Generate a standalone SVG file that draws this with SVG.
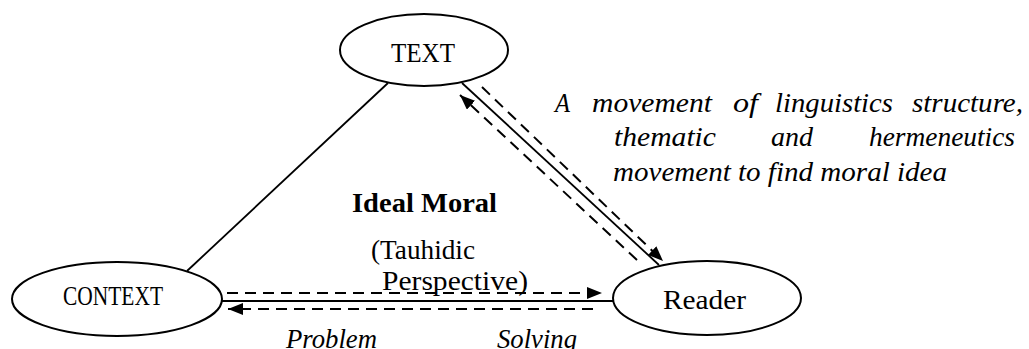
<svg xmlns="http://www.w3.org/2000/svg" width="1029" height="349" viewBox="0 0 1029 349">
<style>
.node{fill:#fff;stroke:#000;stroke-width:2}
.lbl{font-family:"Liberation Serif","Times New Roman",serif;font-size:27px;fill:#000}
.it{font-style:italic}
.bd{font-weight:bold}
.solid{stroke:#000;stroke-width:1.8;fill:none}
.dash{stroke:#000;stroke-width:2;fill:none;stroke-dasharray:11 7}
</style>
<defs>
<marker id="ah" viewBox="0 0 15 12" refX="15" refY="6" markerWidth="15" markerHeight="12" markerUnits="userSpaceOnUse" orient="auto">
<path d="M0,0 L15,6 L0,12 z" fill="#000"/>
</marker>
</defs>
<g id="connectors">
<line class="solid" x1="388" y1="83" x2="187" y2="271"/>
<line class="solid" x1="462" y1="83" x2="659" y2="265"/>
<path class="dash" d="M482,87 L663,261" marker-end="url(#ah)"/>
<path class="dash" d="M637,260 L460,95" marker-end="url(#ah)"/>
<line class="solid" x1="222" y1="301" x2="613" y2="301"/>
<path class="dash" d="M227,293 L602,293" marker-end="url(#ah)"/>
<path class="dash" d="M593,309 L228,309" marker-end="url(#ah)"/>
</g>
<g id="node-text">
<ellipse class="node" cx="424" cy="50" rx="84" ry="36"/>
<text class="lbl" x="391" y="62" textLength="64" lengthAdjust="spacingAndGlyphs">TEXT</text>
</g>
<g id="node-context">
<ellipse class="node" cx="117" cy="299" rx="105" ry="37"/>
<text class="lbl" x="63" y="305" textLength="100" lengthAdjust="spacingAndGlyphs">CONTEXT</text>
</g>
<g id="node-reader">
<ellipse class="node" cx="707" cy="298" rx="94" ry="37"/>
<text class="lbl" x="663" y="309" textLength="83" lengthAdjust="spacingAndGlyphs">Reader</text>
</g>
<g id="label-movement">
<text class="lbl it" y="112"><tspan x="555" textLength="15" lengthAdjust="spacingAndGlyphs">A</tspan><tspan x="592" textLength="120" lengthAdjust="spacingAndGlyphs">movement</tspan><tspan x="733" textLength="25" lengthAdjust="spacingAndGlyphs">of</tspan><tspan x="775" textLength="118" lengthAdjust="spacingAndGlyphs">linguistics</tspan><tspan x="912" textLength="111" lengthAdjust="spacingAndGlyphs">structure,</tspan></text>
<text class="lbl it" y="146"><tspan x="614" textLength="102" lengthAdjust="spacingAndGlyphs">thematic</tspan><tspan x="771" textLength="42" lengthAdjust="spacingAndGlyphs">and</tspan><tspan x="869" textLength="146" lengthAdjust="spacingAndGlyphs">hermeneutics</tspan></text>
<text class="lbl it" x="613" y="181" textLength="334" lengthAdjust="spacingAndGlyphs">movement to find moral idea</text>
</g>
<g id="label-ideal">
<text class="lbl bd" x="352" y="212" textLength="145" lengthAdjust="spacingAndGlyphs">Ideal Moral</text>
<text class="lbl" x="371" y="259" textLength="104" lengthAdjust="spacingAndGlyphs">(Tauhidic</text>
<text class="lbl" x="382" y="290" textLength="146" lengthAdjust="spacingAndGlyphs">Perspective)</text>
</g>
<g id="label-problem">
<text class="lbl it" x="286" y="348" textLength="91" lengthAdjust="spacingAndGlyphs">Problem</text>
<text class="lbl it" x="497" y="348" textLength="80" lengthAdjust="spacingAndGlyphs">Solving</text>
</g>
</svg>
